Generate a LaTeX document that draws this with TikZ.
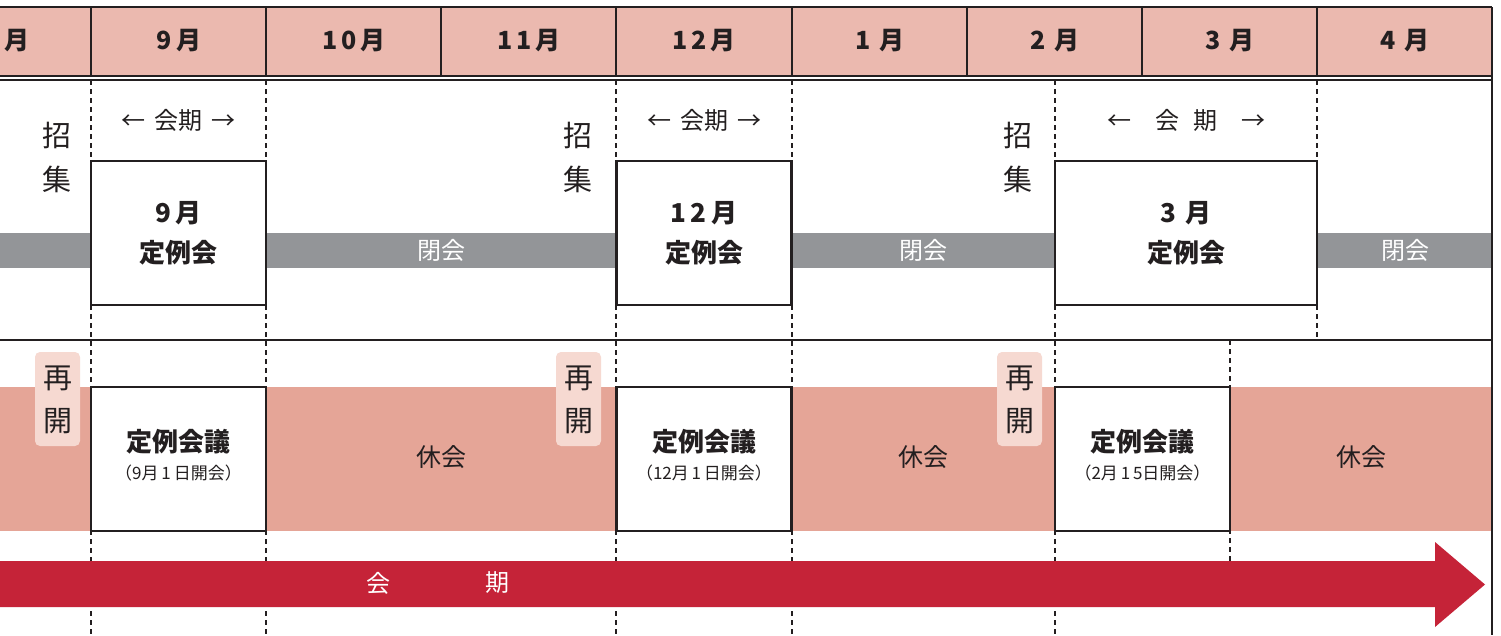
\documentclass[tikz,border=0pt]{standalone}
\usepackage{fontspec}
\setmainfont{Noto Sans CJK JP}
\definecolor{hdrfill}{HTML}{EBB9AF}
\definecolor{bandgray}{HTML}{939598}
\definecolor{salmon}{HTML}{E5A597}
\definecolor{pinkbox}{HTML}{F6D9D1}
\definecolor{arrowred}{HTML}{C52338}
\definecolor{dk}{HTML}{231F20}
\begin{document}
\begin{tikzpicture}[x=1pt,y=-1pt,
  hdr/.style={font=\fontsize{25}{28}\selectfont\bfseries, text=dk, inner sep=0},
  rule/.style={draw=dk, line width=2pt},
  vdash/.style={draw=dk, line width=1.9pt, dash pattern=on 5pt off 4pt},
  evbox/.style={draw=dk, line width=2.8pt, fill=white, inner sep=0, minimum width=175pt},
  boxtxt/.style={font=\fontsize{26}{28}\selectfont\bfseries, text=dk, inner sep=0},
  datetxt/.style={font=\fontsize{17}{20}\selectfont, text=dk, inner sep=0},
  plain/.style={font=\fontsize{25}{28}\selectfont, text=dk, inner sep=0},
  vert/.style={font=\fontsize{29}{32}\selectfont, text=dk, inner sep=0},
  wtxt/.style={font=\fontsize{24}{28}\selectfont, text=white, inner sep=0},
  resume/.style={fill=pinkbox, rounded corners=5pt, minimum width=45pt, minimum height=94pt, inner sep=0}
]
\useasboundingbox (0,0) rectangle (1501,635);
\fill[fill=white] (0,0) rectangle (1501,635);

% header
\fill[hdrfill] (0,7) rectangle (1492,76);
\draw[rule] (0,7) -- (1492,7);
\draw[rule] (0,76) -- (1492,76);
\draw[rule] (0,80) -- (1492,80);
\foreach \x in {91,266,441,616,792,967,1142,1317}
  \draw[rule] (\x,7) -- (\x,76);
\node[hdr] (h8) at (17,41) {月};
\node[hdr] (h9) at (179,41) {9\,月};
\node[hdr] (h10) at (354,41) {1\,0\,月};
\node[hdr] (h11) at (529,41) {1\,1\,月};
\node[hdr] (h12) at (704,41) {1\,2\,月};
\node[hdr] (h1) at (880,41) {1\,\,月};
\node[hdr] (h2) at (1055,41) {2\,\,月};
\node[hdr] (h3) at (1230,41) {3\,\,月};
\node[hdr] (h4) at (1405,41) {4\,\,月};

% bands
\fill[bandgray] (0,233) rectangle (1492,268);
\fill[salmon] (0,387) rectangle (1492,531);

% dashed guide lines
\foreach \x in {91,266,616,792,1055}
  \draw[vdash] (\x,80) -- (\x,635);
\draw[vdash] (1317,80) -- (1317,340);
\draw[vdash] (1230,340) -- (1230,562);

% separators
\draw[rule] (0,340) -- (1492,340);
\draw[rule] (1492,7) -- (1492,635);

% red arrow
\fill[arrowred] (0,561) -- (1435,561) -- (1435,542) -- (1485,584.5) -- (1435,627) -- (1435,607) -- (0,607) -- cycle;
\node[wtxt] (k1) at (378,583) {会};
\node[wtxt] (k2) at (497,583) {期};

% upper boxes
\node[evbox, minimum height=144pt] (t9) at (178.5,233) {};
\node[evbox, minimum height=144pt] (t12) at (704,233) {};
\node[evbox, minimum width=262pt, minimum height=144pt] (t3) at (1186,233) {};
\node[boxtxt] (t9a) at (178.5,213) {9\,月};
\node[boxtxt] (t9b) at (178.5,253) {定例会};
\node[boxtxt] (t12a) at (704,213) {1\,2\,月};
\node[boxtxt] (t12b) at (704,253) {定例会};
\node[boxtxt] (t3a) at (1186,213) {3\,\,月};
\node[boxtxt] (t3b) at (1186,253) {定例会};

% session labels
\node[plain, font=\fontsize{24}{28}\selectfont] (s9) at (178.5,120) {←\hspace{9pt}会期\hspace{9pt}→};
\node[plain, font=\fontsize{24}{28}\selectfont] (s12) at (704,120) {←\hspace{9pt}会期\hspace{9pt}→};
\node[plain, font=\fontsize{24}{28}\selectfont] (s3) at (1186,120) {←\hspace{24pt}会\hspace{14pt}期\hspace{24pt}→};

% convocation
\node[vert] (c1a) at (57,135) {招};
\node[vert] (c1b) at (57,179) {集};
\node[vert] (c2a) at (578,135) {招};
\node[vert] (c2b) at (578,179) {集};
\node[vert] (c3a) at (1018,135) {招};
\node[vert] (c3b) at (1018,179) {集};

% closed labels
\node[wtxt] (g1) at (441,250) {閉会};
\node[wtxt] (g2) at (923,250) {閉会};
\node[wtxt] (g3) at (1405,250) {閉会};

% lower boxes
\node[evbox, minimum height=144pt] (m9) at (178.5,459) {};
\node[evbox, minimum height=144pt] (m12) at (704,459) {};
\node[evbox, minimum height=144pt] (m2) at (1142.5,459) {};
\node[boxtxt] (m9a) at (178.5,442) {定例会議};
\node[datetxt] (m9b) at (178.5,473) {（9月\,1\,日開会）};
\node[boxtxt] (m12a) at (704,442) {定例会議};
\node[datetxt] (m12b) at (704,473) {（12月\,1\,日開会）};
\node[boxtxt] (m2a) at (1142.5,442) {定例会議};
\node[datetxt] (m2b) at (1142.5,473) {（2月\,1\,5日開会）};

% recess labels
\node[plain] (r1) at (441,457) {休会};
\node[plain] (r2) at (923,457) {休会};
\node[plain] (r3) at (1361,457) {休会};

% resume tags
\node[resume] (p1) at (57.5,399) {};
\node[resume] (p2) at (578.5,399) {};
\node[resume] (p3) at (1019.5,399) {};
\node[vert] (p1a) at (57.5,378) {再};
\node[vert] (p1b) at (57.5,421) {開};
\node[vert] (p2a) at (578.5,378) {再};
\node[vert] (p2b) at (578.5,421) {開};
\node[vert] (p3a) at (1019.5,378) {再};
\node[vert] (p3b) at (1019.5,421) {開};
\end{tikzpicture}
\end{document}
